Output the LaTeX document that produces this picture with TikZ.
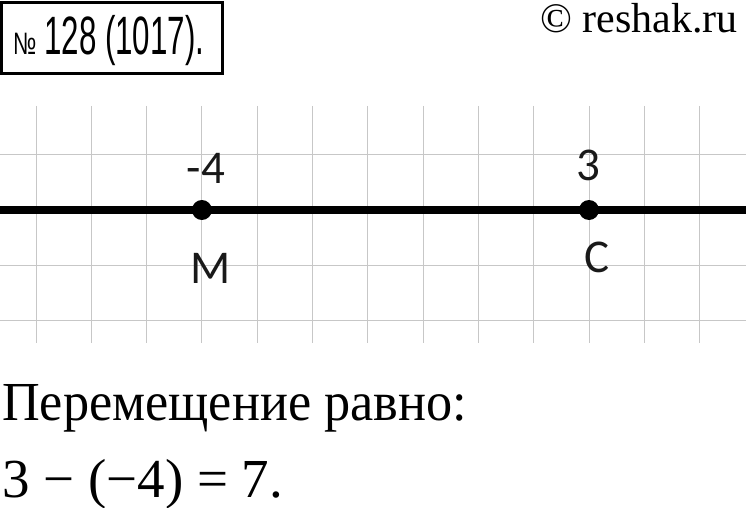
\documentclass[tikz,border=0pt]{standalone}
\usepackage{fontspec}
\setmainfont{Liberation Serif}
\newfontfamily\lblfont{Carlito}
\newfontfamily\titlefont{Liberation Sans}
\begin{document}
\begin{tikzpicture}[x=1pt,y=-1pt,
  gridline/.style={draw=black!22,line width=1pt},
  axisline/.style={draw=black,line width=8pt},
  ptdot/.style={circle,fill=black,inner sep=0pt,minimum size=20pt},
  lbl/.style={inner sep=0pt,anchor=base,font=\lblfont\fontsize{47}{47}\selectfont,text=black!90},
  serif/.style={inner sep=0pt,font=\fontsize{55}{55}\selectfont}]
\useasboundingbox[fill=white] (0,0) rectangle (746,508);
% grid
\foreach \i in {0,...,12}{
  \draw[gridline] ({36+55.3*\i},106) -- ({36+55.3*\i},343);
}
\foreach \y in {154,265,320}{
  \draw[gridline] (0,\y) -- (746,\y);
}
% axis
\coordinate (axL) at (0,210);
\coordinate (axR) at (746,210);
\draw[axisline] (axL) -- (axR);
\node[ptdot] (M) at (201.9,210) {};
\node[ptdot] (C) at (589.0,210) {};
\node[lbl] (lm4) at (206,183) {-4};
\node[lbl] (l3) at (588,180) {3};
\node[lbl] (lM) at (211,283) {M};
\node[lbl] (lC) at (597,272) {C};
% title box
\draw[line width=3pt] (1.5,2.5) rectangle (222,74);
\node[inner sep=0pt,anchor=base west] (no) at (13,55) {\titlefont\fontsize{31}{31}\selectfont\scalebox{0.7}[1]{№}};
\node[inner sep=0pt,anchor=base west] (num) at (44,55) {\titlefont\fontsize{54}{54}\selectfont\scalebox{0.58}[1]{128 (1017).}};
% copyright
\node[inner sep=0pt,anchor=base east,font=\fontsize{42}{42}\selectfont] (copy) at (738,33) {© reshak.ru};
% bottom text
\node[serif,anchor=base west] (t1) at (2,420) {\scalebox{0.95}[1]{Перемещение равно:}};
\node[serif,anchor=base west] (t2) at (2,497) {3 − (−4) = 7.};
\end{tikzpicture}
\end{document}
